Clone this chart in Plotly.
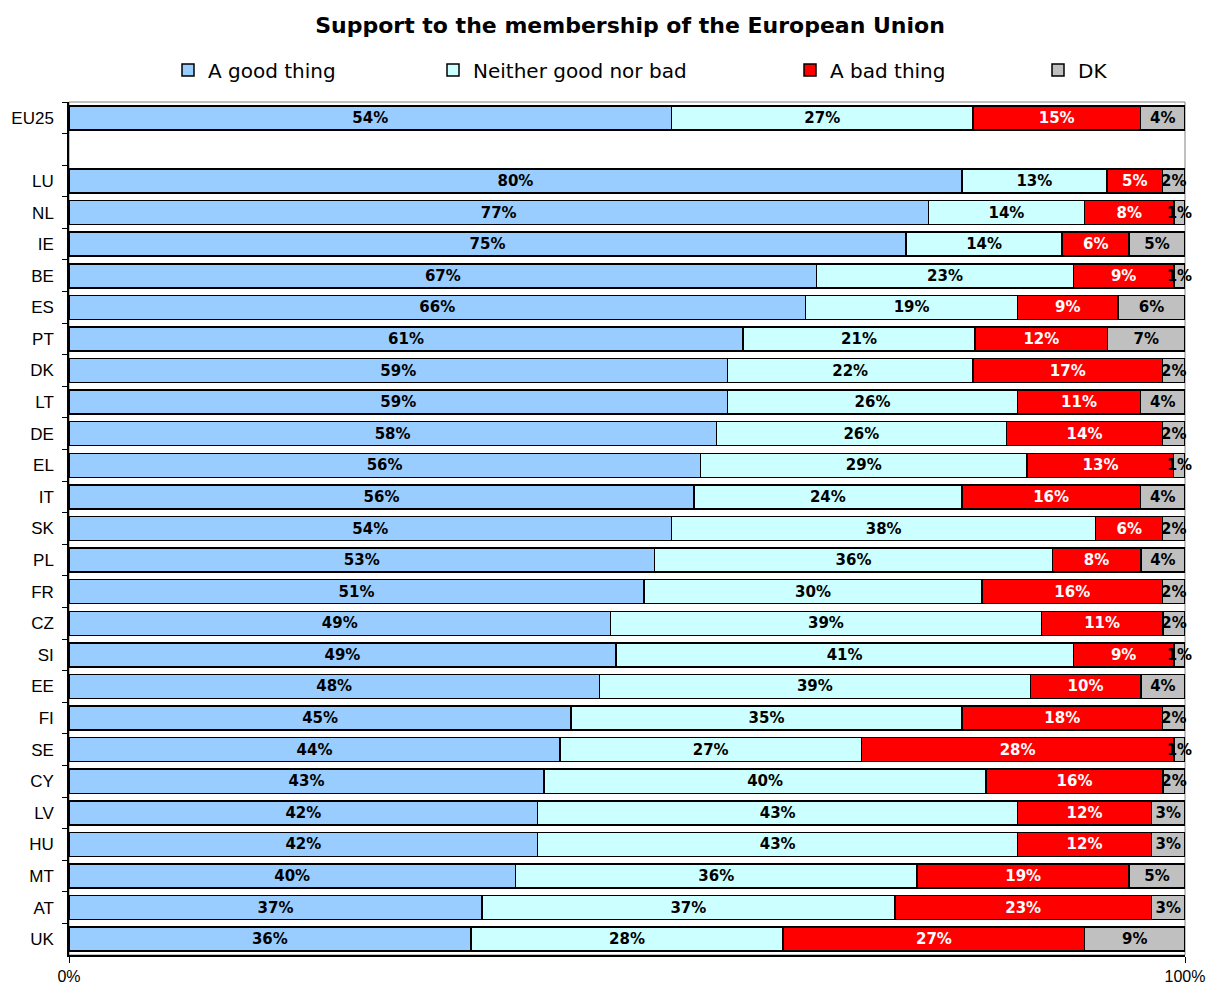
import plotly.graph_objects as go

categories = ["EU25", " ", "LU", "NL", "IE", "BE", "ES", "PT", "DK", "LT", "DE", "EL", "IT",
              "SK", "PL", "FR", "CZ", "SI", "EE", "FI", "SE", "CY", "LV", "HU", "MT", "AT", "UK"]
good = [54, None, 80, 77, 75, 67, 66, 61, 59, 59, 58, 56, 56, 54, 53, 51, 49, 49, 48, 45, 44, 43, 42, 42, 40, 37, 36]
neither = [27, None, 13, 14, 14, 23, 19, 21, 22, 26, 26, 29, 24, 38, 36, 30, 39, 41, 39, 35, 27, 40, 43, 43, 36, 37, 28]
bad = [15, None, 5, 8, 6, 9, 9, 12, 17, 11, 14, 13, 16, 6, 8, 16, 11, 9, 10, 18, 28, 16, 12, 12, 19, 23, 27]
dk = [4, None, 2, 1, 5, 1, 6, 7, 2, 4, 2, 1, 4, 2, 4, 2, 2, 1, 4, 2, 1, 2, 3, 3, 5, 3, 9]

series = [
    ("A good thing", good, "#99CCFF", "black", "legend", 168),
    ("Neither good nor bad", neither, "#CCFFFF", "black", "legend2", 433),
    ("A bad thing", bad, "#FF0000", "white", "legend3", 790),
    ("DK", dk, "#C0C0C0", "black", "legend4", 1038),
]

fig = go.Figure()
for name, vals, color, tcolor, leg, lx in series:
    fig.add_trace(go.Bar(
        y=categories, x=vals, name=name, orientation="h",
        marker=dict(color=color, line=dict(color="black", width=1.5)),
        text=[f"{v}%" if v is not None else "" for v in vals],
        textposition="inside", insidetextanchor="middle", textangle=0,
        textfont=dict(family="DejaVu Sans", size=15, color=tcolor, weight="bold"),
        cliponaxis=False, legend=leg,
    ))

legend_common = dict(orientation="h", xref="container", yref="container", y=1 - 70 / 988,
                     yanchor="middle", xanchor="left", bgcolor="rgba(0,0,0,0)",
                     font=dict(family="DejaVu Sans", size=20, color="black"),
                     itemwidth=30)
layout_legends = {}
for name, vals, color, tcolor, leg, lx in series:
    layout_legends[leg] = dict(legend_common, x=lx / 1208)

fig.update_layout(
    barmode="stack", barnorm="percent", bargap=0.24,
    width=1208, height=988,
    margin=dict(l=69, r=23, t=102, b=33, autoexpand=False),
    paper_bgcolor="white", plot_bgcolor="white",
    title=dict(text="<b>Support to the membership of the European Union</b>",
               x=630 / 1208, xanchor="center", xref="container",
               y=1 - 25 / 988, yanchor="middle", yref="container",
               font=dict(family="DejaVu Sans", size=22, color="black")),
    uniformtext=dict(mode="show", minsize=15),
    showlegend=True,
    **layout_legends,
)
fig.update_yaxes(type="category", categoryorder="array", categoryarray=categories,
                 autorange="reversed", showline=True, linecolor="black", linewidth=1.5,
                 ticks="outside", tickson="boundaries", ticklen=5, tickcolor="black",
                 ticklabelstandoff=10, automargin=False,
                 showgrid=False, tickfont=dict(family="Liberation Sans", size=17, color="black"))
fig.update_xaxes(range=[0, 100], tickvals=[0, 100], ticktext=["0%", "100%"],
                 showline=True, linecolor="black", linewidth=1.5, automargin=False,
                 ticks="outside", ticklen=6, tickcolor="black", showgrid=False,
                 zeroline=False, tickfont=dict(family="Liberation Sans", size=16, color="black"))
fig.add_shape(type="rect", xref="paper", yref="paper", x0=0, x1=1, y0=0, y1=1,
              line=dict(color="#808080", width=1), layer="below")

fig.write_html("out.html", config={"displayModeBar": False},
               post_script="document.body.style.margin='0';")
